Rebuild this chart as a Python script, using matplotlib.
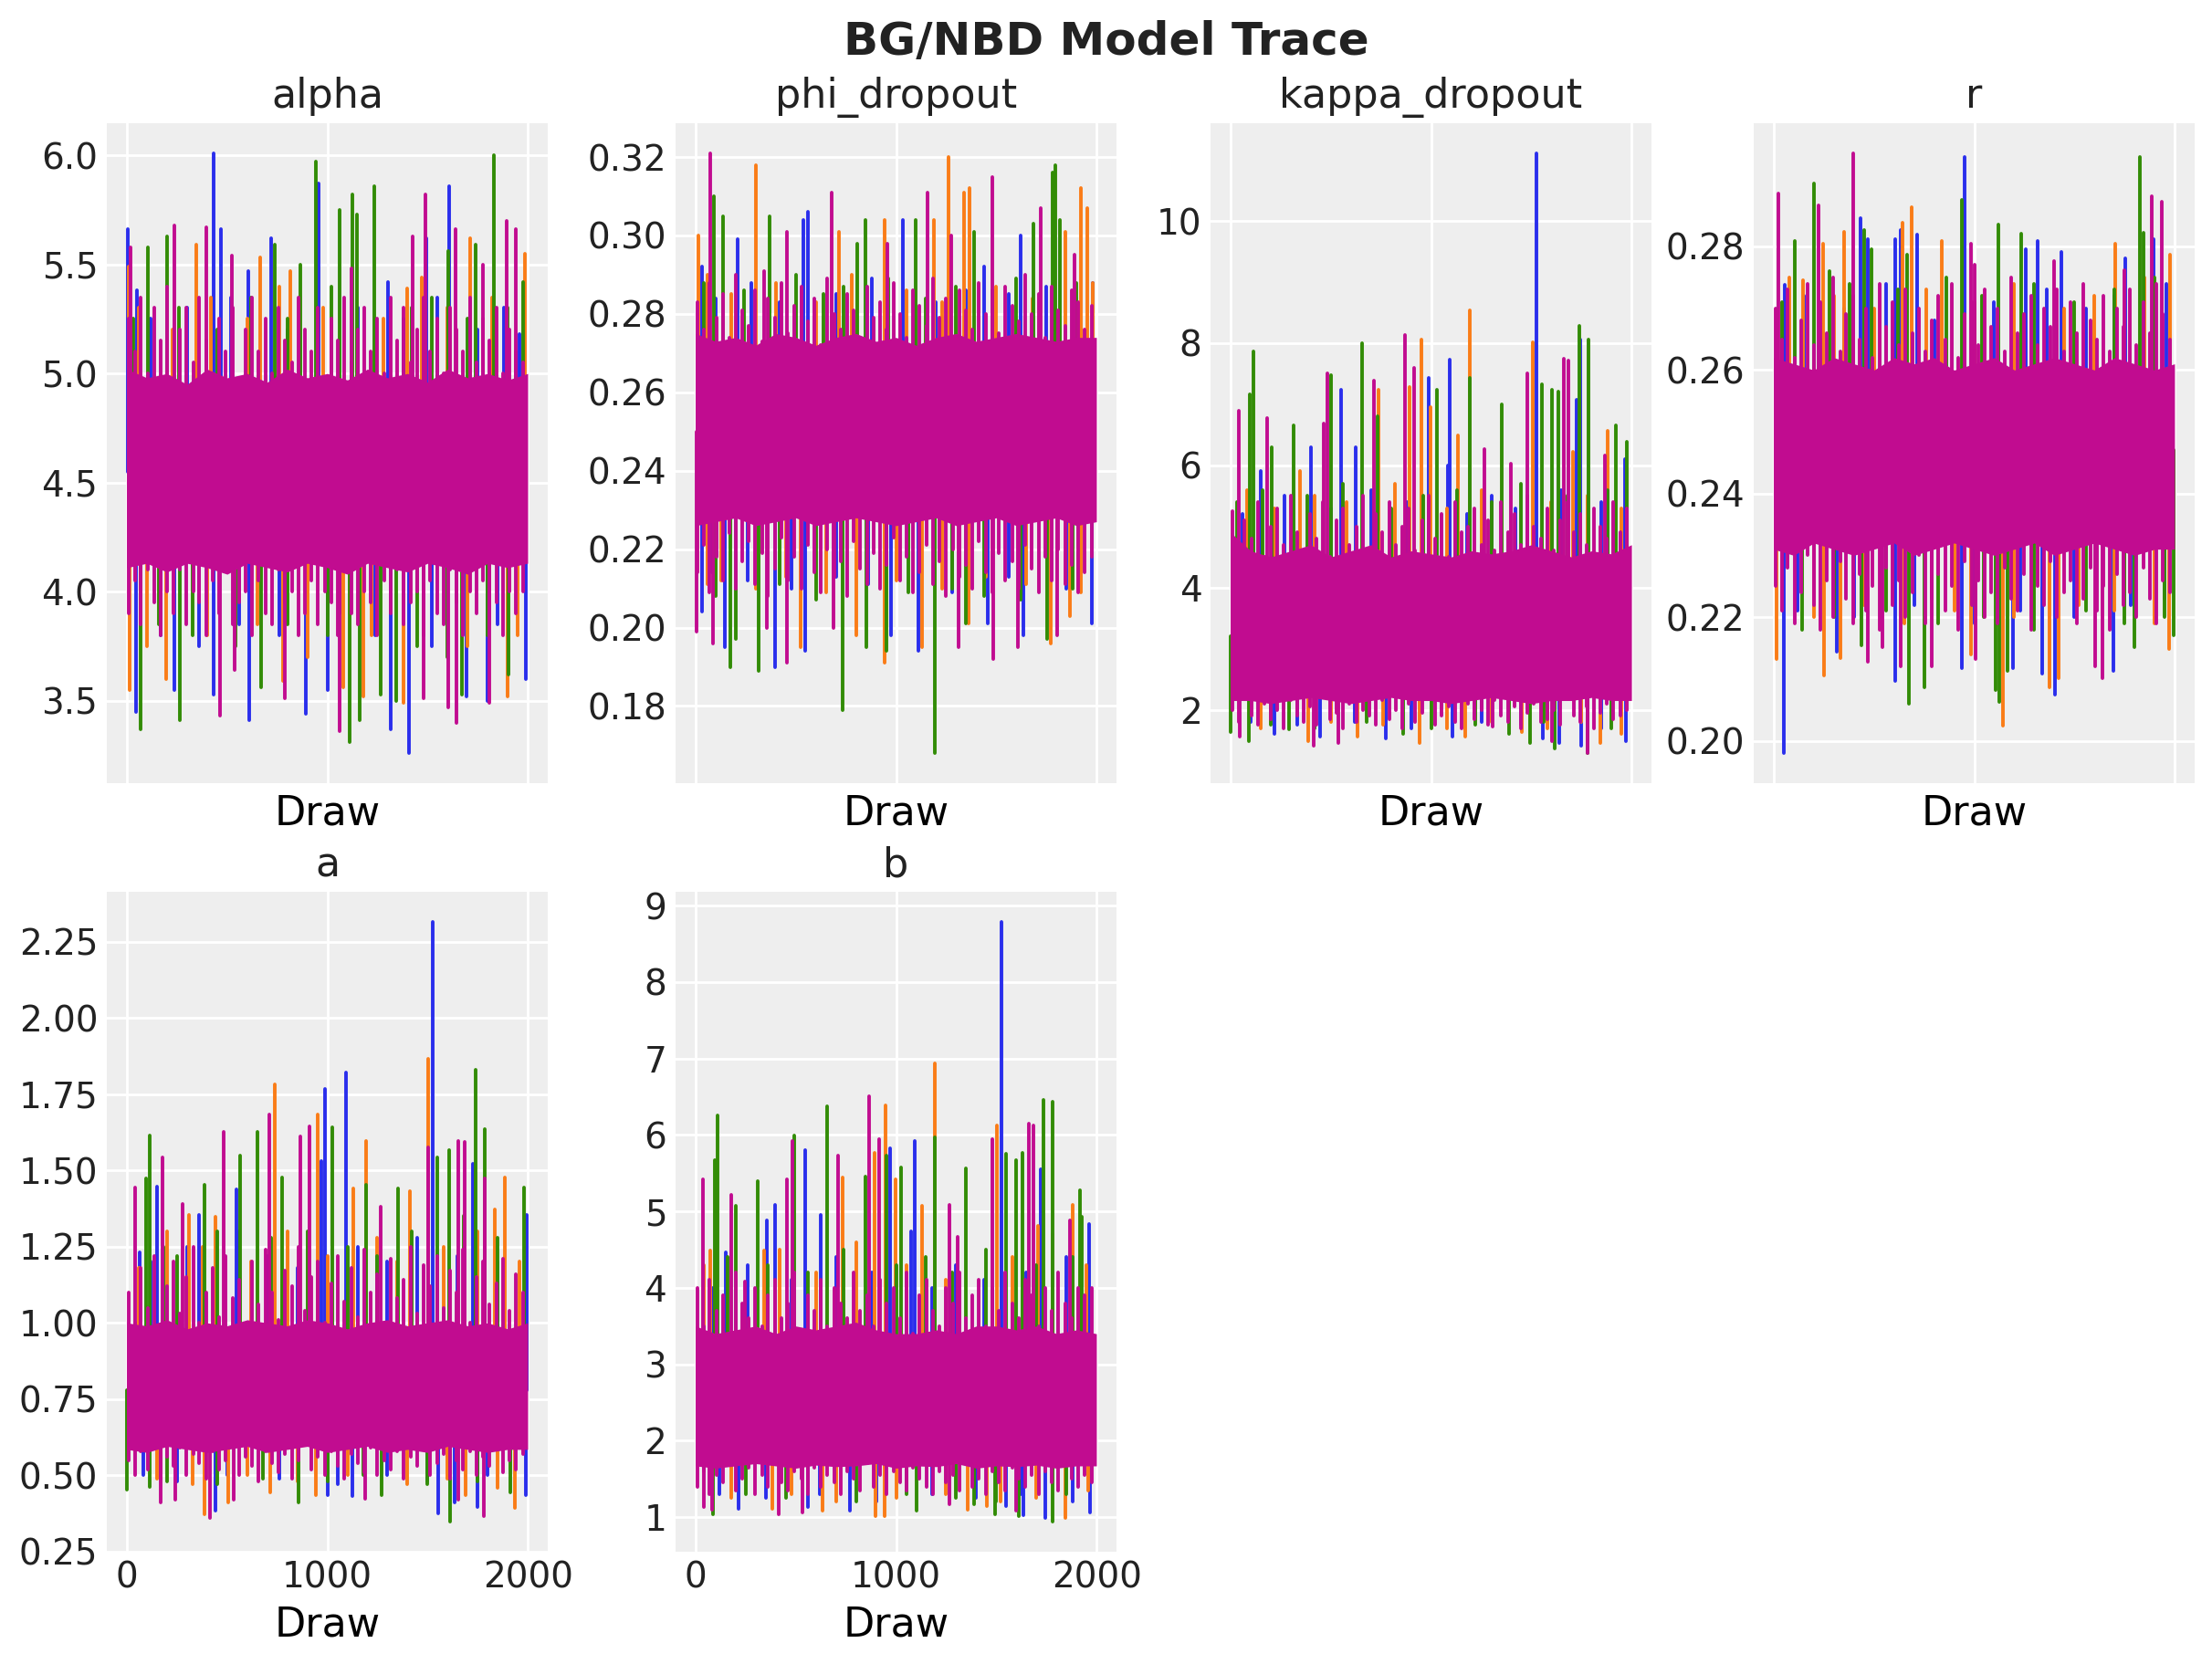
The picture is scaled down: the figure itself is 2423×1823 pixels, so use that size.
import matplotlib
matplotlib.use("Agg")
import matplotlib.pyplot as plt

# chain colours (arviz-darkgrid cycle)
chain_colors = ["#2a2eec", "#fa7c17", "#328c06", "#c10c90"]
param_names = ["alpha", "phi_dropout", "kappa_dropout", "r", "a", "b"]

# draw positions of the dense core band (solid magenta region)
band_draws = [0, 100, 200, 300, 400, 500, 600, 700, 800, 900, 1000,
              1100, 1200, 1300, 1400, 1500, 1600, 1700, 1800, 1900, 1999]

# draw positions of the ragged magenta swings around the core
teeth_draws = [8, 41, 70, 103, 135, 168, 199, 232, 266, 298, 331, 362, 396, 430, 461,
               494, 527, 560, 593, 626, 658, 691, 724, 757, 790, 822, 856, 889, 921, 954,
               987, 1020, 1053, 1086, 1118, 1151, 1184, 1217, 1250, 1283, 1316, 1349, 1382,
               1414, 1447, 1480, 1513, 1546, 1579, 1612, 1645, 1678, 1711, 1744, 1777, 1810,
               1843, 1876, 1909, 1942, 1975]

# ---- alpha ----
alpha_band_hi = [5.02, 4.98, 5.0, 4.95, 5.02, 4.98, 5.0, 4.96, 5.02, 4.98, 5.0,
                 4.97, 5.02, 4.98, 5.0, 4.96, 5.02, 4.98, 5.0, 4.97, 5.0]
alpha_band_lo = [4.11, 4.13, 4.09, 4.13, 4.11, 4.08, 4.13, 4.11, 4.09, 4.13, 4.11,
                 4.08, 4.13, 4.11, 4.09, 4.13, 4.11, 4.08, 4.13, 4.11, 4.13]
alpha_teeth_hi = [5.25, 5.1, 5.35, 5.0, 5.3, 5.15, 5.4, 4.95, 5.2, 5.3, 5.05, 5.35, 5.15, 5.0, 5.25,
                  5.1, 5.3, 4.95, 5.2, 5.35, 5.1, 5.25, 5.0, 5.3, 5.15, 5.05, 5.35, 5.2, 5.1, 5.3,
                  4.95, 5.25, 5.15, 5.35, 5.05, 5.2, 5.3, 5.1, 5.25, 5.0, 5.35, 5.15, 5.3, 5.05, 5.2,
                  5.35, 5.1, 5.25, 5.0, 5.3, 5.2, 5.1, 5.35, 5.05, 5.25, 5.15, 5.3, 5.0, 5.2, 5.1, 5.05]
alpha_teeth_lo = [3.9, 4.05, 3.85, 4.1, 3.95, 3.8, 4.0, 3.9, 4.1, 3.85, 4.0, 3.95, 3.8, 4.05, 3.9,
                  4.1, 3.85, 3.95, 4.0, 3.8, 4.05, 3.9, 3.85, 4.1, 3.95, 4.0, 3.8, 3.9, 4.05, 3.85,
                  4.0, 3.95, 3.8, 4.1, 3.9, 3.85, 4.0, 3.95, 3.8, 4.05, 3.9, 4.1, 3.85, 3.95, 4.0,
                  3.8, 4.05, 3.9, 3.85, 4.1, 3.95, 3.8, 4.0, 3.9, 4.05, 3.85, 3.95, 3.8, 4.0, 3.9, 4.0]
alpha_mid = 4.55
alpha_draws = [
    [4, 52, 434, 470, 606, 718, 956, 1301, 1495, 1609, 1957,
     47, 237, 432, 608, 891, 1001, 1316, 1405, 1696, 1799, 1989,
     120, 300, 520, 800, 1150, 1380, 1550, 1750, 1880, 170, 360, 560, 760, 1060, 1240, 1520, 1850],
    [9, 345, 665, 813, 1398, 1469, 1711, 1985,
     14, 194, 777, 1081, 1180, 1379, 1901,
     60, 230, 420, 600, 760, 980, 1280, 1600, 1820, 100, 400, 650, 900, 1220, 1480, 1700, 1950],
    [104, 199, 736, 867, 943, 1059, 1124, 1146, 1236, 1603, 1739, 1830, 1976,
     67, 263, 671, 1111, 1163, 1268, 1342, 1670, 1905,
     30, 260, 450, 620, 800, 1020, 1420, 1520, 1700, 1900, 160, 330, 540, 800, 1000, 1450, 1600, 1800],
    [19, 239, 395, 526, 1118, 1426, 1487, 1640, 1776, 1896, 1939,
     466, 537, 787, 1059, 1482, 1603, 1645, 1808],
]
alpha_vals = [
    [5.66, 5.38, 6.01, 5.66, 5.47, 5.62, 5.87, 5.42, 5.62, 5.86, 5.18,
     3.45, 3.55, 3.53, 3.41, 3.44, 3.55, 3.37, 3.26, 3.52, 3.50, 3.60,
     5.25, 5.3, 5.35, 5.2, 5.3, 5.25, 5.35, 5.2, 5.3, 3.8, 3.75, 3.85, 3.8, 3.9, 3.8, 3.75, 3.85],
    [5.49, 5.59, 5.53, 5.47, 5.39, 5.44, 5.62, 5.55,
     3.55, 3.60, 3.59, 3.56, 3.52, 3.49, 3.52,
     5.3, 5.2, 5.35, 5.25, 5.4, 5.3, 5.25, 5.3, 5.35, 3.75, 3.8, 3.85, 3.7, 3.8, 3.85, 3.75, 3.8],
    [5.58, 5.63, 5.59, 5.50, 5.97, 5.75, 5.82, 5.73, 5.86, 5.56, 5.59, 6.00, 5.42,
     3.37, 3.41, 3.56, 3.31, 3.41, 3.53, 3.50, 3.53, 3.62,
     5.25, 5.3, 5.2, 5.35, 5.25, 5.4, 5.3, 5.35, 5.25, 5.3, 3.85, 3.8, 3.75, 3.85, 3.8, 3.75, 3.7, 3.8],
    [5.58, 5.68, 5.67, 5.54, 5.48, 5.63, 5.82, 5.66, 5.50, 5.70, 5.66,
     3.43, 3.64, 3.51, 3.36, 3.51, 3.47, 3.40, 3.49],
]

# ---- phi_dropout ----
phi_band_hi = [0.275, 0.273, 0.274, 0.272, 0.275, 0.274, 0.272, 0.274, 0.275, 0.273, 0.274,
               0.272, 0.274, 0.275, 0.273, 0.274, 0.275, 0.274, 0.273, 0.274, 0.274]
phi_band_lo = [0.226, 0.227, 0.228, 0.226, 0.227, 0.228, 0.226, 0.227, 0.228, 0.227, 0.226,
               0.227, 0.228, 0.226, 0.227, 0.228, 0.226, 0.227, 0.228, 0.226, 0.227]
phi_teeth_hi = [0.283, 0.276, 0.288, 0.279, 0.285, 0.274, 0.29, 0.281, 0.277, 0.286, 0.273, 0.284,
                0.279, 0.288, 0.275, 0.282, 0.287, 0.278, 0.284, 0.272, 0.289, 0.28, 0.276, 0.285,
                0.281, 0.274, 0.287, 0.279, 0.283, 0.276, 0.288, 0.28, 0.274, 0.286, 0.282, 0.277,
                0.289, 0.279, 0.284, 0.273, 0.286, 0.281, 0.276, 0.288, 0.28, 0.284, 0.275, 0.287,
                0.282, 0.278, 0.29, 0.28, 0.285, 0.274, 0.287, 0.281, 0.277, 0.286, 0.283, 0.276, 0.282]
phi_teeth_lo = [0.214, 0.221, 0.209, 0.218, 0.212, 0.224, 0.21, 0.217, 0.222, 0.211, 0.219, 0.208,
                0.215, 0.223, 0.212, 0.218, 0.21, 0.221, 0.214, 0.209, 0.22, 0.213, 0.217, 0.208,
                0.222, 0.215, 0.211, 0.219, 0.21, 0.216, 0.223, 0.212, 0.218, 0.209, 0.214, 0.221,
                0.211, 0.217, 0.208, 0.22, 0.213, 0.216, 0.21, 0.222, 0.214, 0.209, 0.219, 0.212,
                0.217, 0.21, 0.221, 0.215, 0.209, 0.218, 0.212, 0.22, 0.211, 0.216, 0.209, 0.214, 0.218]
phi_mid = 0.25
phi_draws = [
    [33, 211, 537, 560, 1034, 1440, 1623, 1979,
     31, 145, 398, 548, 976, 1111, 1458, 1635, 1975,
     100, 280, 420, 700, 880, 1200, 1350, 1560, 1750, 1900, 80, 260, 480, 700, 860, 1280, 1560, 1850],
    [13, 302, 717, 943, 1189, 1261, 1337, 1366, 1845, 1924, 1952,
     60, 524, 800, 941, 1129, 1362, 1771, 1868,
     60, 180, 400, 600, 780, 1050, 1230, 1500, 1680, 1980, 130, 300, 450, 650, 1000, 1230, 1450, 1650, 1920],
    [90, 137, 367, 804, 849, 1099, 1388, 1686, 1780, 1793, 1816,
     172, 199, 313, 732, 852, 954, 1193, 1346, 1753,
     40, 240, 500, 640, 740, 960, 1150, 1300, 1480, 1600, 1900, 100, 420, 600, 1060, 1280, 1440, 1620, 1880],
    [72, 340, 455, 681, 958, 1156, 1274, 1478, 1720, 1890,
     4, 87, 354, 457, 688, 1312, 1485, 1608, 1802],
]
phi_vals = [
    [0.292, 0.299, 0.304, 0.306, 0.304, 0.292, 0.300, 0.288,
     0.204, 0.195, 0.190, 0.194, 0.198, 0.194, 0.201, 0.198, 0.201,
     0.284, 0.288, 0.283, 0.285, 0.289, 0.283, 0.286, 0.285, 0.287, 0.284,
     0.214, 0.212, 0.21, 0.213, 0.211, 0.209, 0.213, 0.21],
    [0.300, 0.318, 0.301, 0.304, 0.304, 0.320, 0.311, 0.312, 0.301, 0.312, 0.307,
     0.211, 0.195, 0.198, 0.191, 0.195, 0.201, 0.196, 0.203,
     0.29, 0.285, 0.288, 0.283, 0.29, 0.286, 0.283, 0.287, 0.284, 0.288,
     0.212, 0.21, 0.213, 0.209, 0.212, 0.21, 0.213, 0.211, 0.209],
    [0.310, 0.305, 0.305, 0.298, 0.304, 0.304, 0.301, 0.303, 0.316, 0.318, 0.304,
     0.190, 0.197, 0.189, 0.179, 0.195, 0.194, 0.168, 0.201, 0.197,
     0.288, 0.286, 0.29, 0.285, 0.287, 0.289, 0.284, 0.287, 0.286, 0.289, 0.288,
     0.208, 0.211, 0.207, 0.209, 0.21, 0.208, 0.207, 0.21],
    [0.321, 0.291, 0.301, 0.311, 0.298, 0.311, 0.300, 0.315, 0.307, 0.295,
     0.199, 0.196, 0.200, 0.191, 0.200, 0.195, 0.192, 0.195, 0.198],
]

# ---- kappa_dropout ----
kappa_band_hi = [4.9, 4.6, 4.5, 4.6, 4.7, 4.5, 4.6, 4.7, 4.5, 4.6, 4.55,
                 4.5, 4.6, 4.55, 4.6, 4.7, 4.6, 4.5, 4.6, 4.55, 4.7]
kappa_band_lo = [2.15, 2.15, 2.1, 2.15, 2.2, 2.15, 2.1, 2.15, 2.2, 2.15, 2.15,
                 2.1, 2.15, 2.2, 2.15, 2.1, 2.15, 2.15, 2.2, 2.15, 2.15]
kappa_teeth_hi = [5.25, 4.6, 5.1, 4.8, 5.4, 4.5, 5.0, 5.3, 4.7, 5.5, 4.9, 4.6, 5.2, 4.8, 5.4,
                  4.5, 5.1, 5.3, 4.7, 5.0, 5.5, 4.6, 5.2, 4.9, 5.4, 4.7, 5.0, 5.3, 4.6, 5.1,
                  5.5, 4.8, 5.2, 4.5, 5.4, 4.9, 5.0, 5.3, 4.7, 5.1, 4.6, 5.4, 4.9, 5.2, 4.7,
                  5.5, 5.0, 4.8, 5.3, 4.6, 5.1, 5.4, 4.9, 5.2, 4.7, 5.3, 5.0, 4.8, 5.4, 4.9, 5.3]
kappa_teeth_lo = [2.0, 1.8, 2.2, 1.9, 1.75, 2.1, 1.85, 2.0, 1.7, 2.15, 1.9, 1.8, 2.05, 1.75, 2.2,
                  1.85, 1.95, 1.7, 2.1, 1.8, 2.0, 1.9, 1.75, 2.15, 1.85, 2.0, 1.7, 2.1, 1.8, 1.95,
                  2.2, 1.75, 1.9, 2.05, 1.8, 1.7, 2.1, 1.85, 2.0, 1.75, 2.15, 1.9, 1.8, 2.05, 1.7,
                  1.95, 2.1, 1.8, 1.85, 2.0, 1.75, 2.2, 1.9, 1.8, 2.05, 1.7, 1.95, 2.1, 1.85, 1.9, 2.0]
kappa_mid = 3.2
kappa_draws = [
    [1527, 1094, 990, 552, 400, 623, 1746, 1724, 150, 1966, 1083,
     218, 448, 772, 1105, 1556, 1750, 1970, 1640,
     60, 270, 500, 700, 880, 1180, 1300, 1420, 1650, 1850, 100, 330, 620, 900, 1250, 1450, 1850],
    [1194, 953, 1507, 738, 894, 998, 1133, 1882, 1708, 348,
     387, 632, 944, 1843, 1451, 1949, 1172,
     80, 220, 420, 580, 820, 1080, 1250, 1600, 1780, 1950, 150, 500, 760, 1080, 1300, 1580, 1750],
    [113, 96, 657, 1740, 1784, 1194, 1552, 1603, 1633, 1350, 500, 1027, 204, 314, 733, 1920, 1978,
     2, 90, 291, 860, 1495, 1615, 1780, 1387,
     30, 160, 380, 560, 800, 960, 1130, 1300, 1450, 1680, 1880, 200, 420, 680, 1000, 1220, 1560, 1900],
    [42, 181, 481, 870, 915, 713, 1481, 1662, 1684, 1267, 1397, 1868, 463,
     44, 414, 535, 1603, 1780, 1306],
]
kappa_vals = [
    [11.11, 7.73, 7.43, 7.24, 6.30, 6.30, 8.06, 7.08, 5.91, 6.10, 5.99,
     1.60, 1.56, 1.53, 1.56, 1.53, 1.41, 1.49, 1.45,
     5.2, 5.5, 5.3, 5.6, 5.4, 5.2, 5.5, 5.3, 5.6, 5.4, 1.8, 1.75, 1.8, 1.7, 1.8, 1.75, 1.7],
    [8.53, 8.06, 8.02, 7.24, 7.28, 6.96, 6.49, 6.57, 6.22, 5.91,
     1.49, 1.56, 1.45, 1.45, 1.64, 1.60, 1.56,
     5.6, 5.3, 5.5, 5.4, 5.7, 5.3, 5.6, 5.4, 5.5, 5.3, 1.7, 1.8, 1.75, 1.7, 1.8, 1.7, 1.8],
    [7.86, 7.16, 8.00, 8.29, 8.06, 7.43, 7.32, 7.24, 7.20, 7.00, 7.47, 7.24, 6.30, 6.65, 6.81, 6.65, 6.38,
     1.64, 1.49, 1.68, 1.60, 1.45, 1.37, 1.29, 1.60,
     5.4, 5.6, 5.5, 5.7, 5.3, 5.5, 5.6, 5.4, 5.7, 5.5, 5.6, 1.75, 1.7, 1.8, 1.7, 1.75, 1.8, 1.7],
    [6.89, 6.77, 7.51, 8.14, 7.59, 7.39, 7.51, 7.75, 7.71, 6.26, 6.02, 6.16, 6.69,
     1.56, 1.41, 1.45, 1.49, 1.29, 1.72],
]

# ---- r ----
r_band_hi = [0.262, 0.261, 0.26, 0.262, 0.261, 0.26, 0.262, 0.261, 0.262, 0.26, 0.261,
             0.262, 0.26, 0.261, 0.262, 0.261, 0.26, 0.262, 0.261, 0.26, 0.261]
r_band_lo = [0.231, 0.23, 0.232, 0.231, 0.23, 0.231, 0.232, 0.23, 0.231, 0.232, 0.231,
             0.23, 0.231, 0.232, 0.23, 0.231, 0.232, 0.231, 0.23, 0.231, 0.231]
r_teeth_hi = [0.27, 0.265, 0.273, 0.262, 0.268, 0.274, 0.264, 0.271, 0.266, 0.275, 0.263, 0.269,
              0.272, 0.265, 0.27, 0.262, 0.274, 0.267, 0.271, 0.264, 0.273, 0.266, 0.27, 0.263,
              0.268, 0.272, 0.265, 0.274, 0.262, 0.269, 0.271, 0.264, 0.273, 0.267, 0.27, 0.263,
              0.275, 0.266, 0.269, 0.272, 0.264, 0.27, 0.267, 0.273, 0.263, 0.271, 0.266, 0.274,
              0.268, 0.265, 0.272, 0.263, 0.27, 0.267, 0.273, 0.264, 0.271, 0.266, 0.274, 0.269, 0.265]
r_teeth_lo = [0.225, 0.221, 0.228, 0.219, 0.224, 0.23, 0.222, 0.218, 0.226, 0.22, 0.229, 0.223,
              0.219, 0.227, 0.221, 0.225, 0.218, 0.228, 0.222, 0.226, 0.22, 0.224, 0.23, 0.219,
              0.223, 0.227, 0.221, 0.225, 0.218, 0.229, 0.222, 0.226, 0.22, 0.224, 0.219, 0.228,
              0.223, 0.221, 0.227, 0.218, 0.225, 0.222, 0.229, 0.22, 0.224, 0.226, 0.219, 0.223,
              0.228, 0.221, 0.225, 0.218, 0.227, 0.222, 0.224, 0.22, 0.228, 0.223, 0.219, 0.226, 0.224]
r_mid = 0.247
r_draws = [
    [954, 434, 471, 607, 632, 714, 1318, 1258, 1755, 1895, 54, 1437,
     51, 606, 938, 1404, 1341, 1694, 1195, 313,
     150, 350, 560, 800, 1100, 1360, 1560, 1700, 1960, 120, 400, 700, 1000, 1230, 1500, 1780, 1950],
    [688, 644, 352, 245, 837, 1705, 1976, 145,
     12, 252, 331, 1145, 1374, 1421, 1974, 982,
     80, 300, 500, 760, 1000, 1200, 1450, 1600, 1850, 200, 450, 650, 900, 1200, 1520, 1700, 1900],
    [200, 107, 1825, 1846, 940, 1122, 1236, 451, 488, 665,
     675, 754, 1124, 1108, 438, 1799, 1997, 1167,
     40, 280, 380, 620, 860, 1040, 1300, 1500, 1700, 1900, 140, 300, 560, 820, 1050, 1300, 1560, 1750, 1950],
    [23, 397, 222, 984, 1887, 1937, 1748, 1397, 1001,
     471, 634, 786, 1008, 1638, 1603, 541],
]
r_vals = [
    [0.2945, 0.2846, 0.2812, 0.2812, 0.2827, 0.2819, 0.2809, 0.2796, 0.2781, 0.2812, 0.2738, 0.2791,
     0.198, 0.2097, 0.2117, 0.2074, 0.2109, 0.2113, 0.2117, 0.2144,
     0.272, 0.27, 0.274, 0.268, 0.271, 0.273, 0.27, 0.272, 0.274,
     0.221, 0.22, 0.222, 0.219, 0.221, 0.22, 0.222, 0.223],
    [0.2863, 0.2839, 0.2823, 0.2804, 0.2809, 0.2804, 0.2786, 0.2746,
     0.2132, 0.2105, 0.2134, 0.2024, 0.2086, 0.2101, 0.2148, 0.2140,
     0.275, 0.272, 0.27, 0.273, 0.271, 0.274, 0.27, 0.272, 0.275,
     0.22, 0.222, 0.219, 0.221, 0.22, 0.222, 0.221, 0.219],
    [0.2902, 0.2809, 0.2945, 0.2822, 0.2875, 0.2836, 0.2821, 0.2827, 0.2796, 0.2786,
     0.2060, 0.2086, 0.2063, 0.2082, 0.2155, 0.2151, 0.2171, 0.2113,
     0.271, 0.276, 0.274, 0.273, 0.275, 0.272, 0.274, 0.271, 0.273, 0.275,
     0.218, 0.22, 0.221, 0.219, 0.22, 0.218, 0.221, 0.219, 0.22],
    [0.2886, 0.2951, 0.2866, 0.2804, 0.2881, 0.2873, 0.2761, 0.2777, 0.2771,
     0.2128, 0.2120, 0.2120, 0.2132, 0.2101, 0.2120, 0.2151],
]

# ---- a ----
a_band_hi = [1.0, 0.99, 1.01, 0.98, 1.0, 0.99, 1.01, 1.0, 0.99, 1.01, 1.0,
             0.98, 1.0, 1.01, 0.99, 1.0, 1.01, 0.99, 1.0, 0.98, 1.0]
a_band_lo = [0.585, 0.575, 0.595, 0.585, 0.575, 0.585, 0.595, 0.575, 0.585, 0.595, 0.575,
             0.585, 0.595, 0.575, 0.585, 0.575, 0.595, 0.585, 0.575, 0.585, 0.585]
a_teeth_hi = [1.1, 1.0, 1.18, 1.05, 1.22, 0.98, 1.12, 1.2, 1.03, 1.15, 1.25, 1.0, 1.1, 1.18, 1.02,
              1.22, 1.08, 1.14, 0.99, 1.2, 1.06, 1.24, 1.1, 1.01, 1.17, 1.12, 1.25, 1.04, 1.15, 1.2,
              1.0, 1.13, 1.22, 1.07, 1.18, 1.02, 1.24, 1.1, 1.16, 1.0, 1.21, 1.08, 1.14, 1.25, 1.03,
              1.19, 1.12, 1.22, 1.05, 1.17, 1.1, 1.24, 1.0, 1.15, 1.2, 1.06, 1.13, 1.21, 1.04, 1.16, 1.1]
a_teeth_lo = [0.55, 0.5, 0.58, 0.52, 0.6, 0.49, 0.56, 0.53, 0.59, 0.5, 0.57, 0.54, 0.49, 0.58, 0.52,
              0.55, 0.6, 0.5, 0.56, 0.53, 0.48, 0.58, 0.54, 0.51, 0.57, 0.49, 0.55, 0.6, 0.52, 0.56,
              0.5, 0.58, 0.53, 0.49, 0.57, 0.54, 0.51, 0.59, 0.5, 0.55, 0.52, 0.58, 0.49, 0.56, 0.53,
              0.6, 0.5, 0.54, 0.57, 0.49, 0.55, 0.52, 0.58, 0.5, 0.56, 0.53, 0.59, 0.51, 0.55, 0.52, 0.57]
a_mid = 0.78
a_draws = [
    [1525, 1094, 988, 149, 546, 1724, 1994, 65, 358, 969,
     442, 1553, 1747, 1990, 1003, 1124, 1637,
     120, 300, 560, 700, 850, 1150, 1300, 1450, 1650, 1850, 80, 250, 500, 760, 1050, 1300, 1500, 1800],
    [1504, 736, 951, 1193, 1883, 1413, 1131, 1834, 311, 442,
     386, 507, 714, 941, 1937, 1691,
     60, 200, 380, 620, 800, 1000, 1250, 1350, 1580, 1750, 1960, 150, 330, 600, 850, 1100, 1400, 1600, 1850],
    [112, 97, 386, 563, 652, 774, 1025, 1739, 1784, 1351, 1191, 1609, 1549, 1983,
     0, 857, 1614, 1271, 115, 1911,
     180, 250, 450, 720, 900, 1100, 1250, 1420, 1680, 1850, 200, 450, 680, 1000, 1180, 1500, 1750],
    [39, 179, 481, 712, 867, 913, 1501, 1653, 1683, 1786, 1267, 276,
     168, 240, 414, 533, 1780, 1187, 1655],
]
a_vals = [
    [2.315, 1.821, 1.768, 1.447, 1.437, 1.521, 1.354, 1.230, 1.354, 1.530,
     0.383, 0.375, 0.396, 0.436, 0.436, 0.433, 0.410,
     1.2, 1.25, 1.3, 1.22, 1.18, 1.25, 1.2, 1.28, 1.22, 1.2, 0.5, 0.48, 0.5, 0.49, 0.47, 0.5, 0.48, 0.5],
    [1.865, 1.782, 1.684, 1.595, 1.477, 1.433, 1.442, 1.371, 1.354, 1.348,
     0.371, 0.410, 0.445, 0.436, 0.392, 0.436,
     1.18, 1.3, 1.25, 1.2, 1.3, 1.22, 1.28, 1.2, 1.25, 1.3, 1.2,
     0.49, 0.47, 0.5, 0.48, 0.5, 0.47, 0.49, 0.46],
    [1.613, 1.472, 1.454, 1.548, 1.627, 1.477, 1.641, 1.830, 1.636, 1.442, 1.454, 1.565, 1.542, 1.445,
     0.454, 0.410, 0.348, 0.436, 0.463, 0.445,
     1.25, 1.22, 1.3, 1.28, 1.3, 1.25, 1.22, 1.3, 1.35, 1.28, 0.48, 0.47, 0.49, 0.48, 0.5, 0.47, 0.48],
    [1.445, 1.542, 1.627, 1.684, 1.610, 1.645, 1.574, 1.597, 1.592, 1.472, 1.380, 1.389,
     0.410, 0.419, 0.361, 0.419, 0.366, 0.424, 0.419],
]

# ---- b ----
b_band_hi = [3.5, 3.4, 3.45, 3.5, 3.4, 3.5, 3.45, 3.5, 3.55, 3.45, 3.4,
             3.4, 3.45, 3.4, 3.5, 3.5, 3.45, 3.5, 3.4, 3.45, 3.4]
b_band_lo = [1.67, 1.64, 1.67, 1.7, 1.67, 1.64, 1.68, 1.66, 1.67, 1.7, 1.64,
             1.67, 1.66, 1.7, 1.64, 1.67, 1.66, 1.68, 1.64, 1.67, 1.67]
b_teeth_hi = [4.0, 3.5, 4.1, 3.7, 3.9, 3.4, 4.2, 3.8, 3.6, 4.0, 3.5, 3.9, 4.1, 3.6, 3.8,
              4.2, 3.4, 3.9, 3.7, 4.1, 3.5, 4.0, 3.8, 3.6, 4.2, 3.7, 3.9, 3.5, 4.1, 3.8,
              4.0, 3.6, 4.2, 3.4, 3.9, 4.1, 3.7, 3.5, 4.0, 3.8, 4.2, 3.6, 3.9, 4.1, 3.5,
              4.0, 3.7, 4.2, 3.8, 3.6, 4.1, 3.9, 3.5, 4.0, 3.7, 4.2, 3.8, 3.6, 4.0, 3.9, 4.0]
b_teeth_lo = [1.4, 1.6, 1.3, 1.55, 1.45, 1.7, 1.35, 1.5, 1.65, 1.3, 1.55, 1.4, 1.7, 1.45, 1.35,
              1.6, 1.5, 1.3, 1.65, 1.4, 1.55, 1.45, 1.3, 1.6, 1.5, 1.35, 1.7, 1.4, 1.55, 1.3,
              1.6, 1.45, 1.35, 1.65, 1.5, 1.4, 1.3, 1.6, 1.45, 1.55, 1.35, 1.7, 1.4, 1.5, 1.3,
              1.6, 1.45, 1.35, 1.65, 1.5, 1.4, 1.55, 1.3, 1.6, 1.45, 1.35, 1.7, 1.5, 1.4, 1.55, 1.45]
b_mid = 2.4
b_draws = [
    [1525, 1093, 548, 972, 398, 356, 622, 1961, 1720, 150, 1075,
     215, 560, 772, 1744, 1635, 1966, 1550,
     80, 260, 480, 700, 880, 1180, 1300, 1440, 1650, 1850, 120, 350, 620, 900, 1180, 1400, 1620, 1880],
    [1193, 949, 1503, 894, 735, 996, 1131, 1879, 1708, 72, 343,
     385, 632, 897, 943, 1843, 1359, 1455,
     40, 200, 420, 600, 800, 1050, 1250, 1580, 1780, 1950, 180, 480, 700, 1000, 1250, 1520, 1700, 1960],
    [110, 94, 493, 654, 954, 1193, 1737, 1782, 1348, 1549, 1597, 1630, 311, 202, 847, 1025, 1917, 1928,
     87, 1494, 1614, 1780, 1104, 1391,
     160, 360, 560, 740, 1000, 1150, 1280, 1450, 1700, 1880, 250, 450, 800, 1050, 1300, 1500, 1850],
    [38, 179, 481, 455, 710, 867, 914, 1661, 1684, 1482, 1267, 1305, 1868, 244,
     40, 80, 414, 533, 1597, 1265],
]
b_vals = [
    [8.79, 5.92, 5.80, 5.82, 5.09, 4.88, 4.95, 4.83, 5.55, 4.46, 4.74,
     1.11, 1.13, 1.08, 0.99, 1.03, 1.06, 1.15,
     4.0, 4.3, 4.1, 4.4, 4.2, 4.0, 4.3, 4.1, 4.2, 4.4, 1.3, 1.25, 1.3, 1.2, 1.3, 1.25, 1.3, 1.2],
    [6.94, 6.39, 6.13, 5.77, 5.44, 5.42, 5.07, 5.09, 4.81, 4.49, 4.49,
     1.11, 1.08, 1.01, 1.01, 0.99, 1.10, 1.15,
     4.3, 4.0, 4.5, 4.2, 4.6, 4.3, 4.1, 4.4, 4.7, 4.3, 1.25, 1.3, 1.2, 1.25, 1.3, 1.2, 1.25, 1.35],
    [6.25, 5.67, 5.99, 6.37, 5.73, 5.97, 6.46, 6.44, 5.56, 5.76, 5.67, 5.77, 5.39, 5.07, 5.46, 5.57, 5.28, 4.93,
     1.04, 1.04, 1.01, 0.94, 1.08, 1.17,
     4.4, 4.3, 4.2, 4.5, 4.3, 4.4, 4.2, 4.5, 4.3, 4.4, 1.3, 1.25, 1.2, 1.3, 1.25, 1.2, 1.3],
    [5.42, 5.22, 5.92, 5.42, 5.73, 6.51, 5.95, 6.15, 6.13, 5.94, 5.09, 4.67, 4.88, 4.08,
     1.13, 1.10, 1.04, 1.06, 1.08, 1.17],
]

mids = [alpha_mid, phi_mid, kappa_mid, r_mid, a_mid, b_mid]
bands_hi = [alpha_band_hi, phi_band_hi, kappa_band_hi, r_band_hi, a_band_hi, b_band_hi]
bands_lo = [alpha_band_lo, phi_band_lo, kappa_band_lo, r_band_lo, a_band_lo, b_band_lo]
teeth_hi = [alpha_teeth_hi, phi_teeth_hi, kappa_teeth_hi, r_teeth_hi, a_teeth_hi, b_teeth_hi]
teeth_lo = [alpha_teeth_lo, phi_teeth_lo, kappa_teeth_lo, r_teeth_lo, a_teeth_lo, b_teeth_lo]
all_draws = [alpha_draws, phi_draws, kappa_draws, r_draws, a_draws, b_draws]
all_vals = [alpha_vals, phi_vals, kappa_vals, r_vals, a_vals, b_vals]

# arviz-darkgrid look
plt.rcParams.update({
    "font.family": "DejaVu Sans",
    "axes.facecolor": "#eeeeee",
    "axes.edgecolor": "none",
    "axes.grid": True,
    "axes.axisbelow": True,
    "grid.color": "white",
    "grid.linewidth": 1.0,
    "axes.titlesize": 16,
    "axes.labelsize": 16,
    "xtick.labelsize": 14,
    "ytick.labelsize": 14,
    "xtick.major.size": 0,
    "ytick.major.size": 0,
    "text.color": "#222222",
    "xtick.color": "#222222",
    "ytick.color": "#222222",
})

fig = plt.figure(figsize=(12.115, 9.115), dpi=200)

col_left = [0.0483, 0.3054, 0.5473, 0.7928]
row_bottom = [0.5294, 0.0675]
panel_w, panel_h = 0.1993, 0.3966

axes = []
for i, name in enumerate(param_names):
    row, col = divmod(i, 4)
    rect = [col_left[col], row_bottom[row], panel_w, panel_h]
    ax = fig.add_axes(rect, sharex=axes[0] if axes else None)
    axes.append(ax)

    # chains 0-2 under the band, magenta chain on top
    for c in range(3):
        ax.vlines(all_draws[i][c], mids[i], all_vals[i][c], color=chain_colors[c],
                  linewidth=1.4, capstyle="round", zorder=2)
    ax.fill_between(band_draws, bands_lo[i], bands_hi[i],
                    color=chain_colors[3], linewidth=0, zorder=3)
    ax.vlines(teeth_draws, teeth_lo[i], teeth_hi[i], color=chain_colors[3],
              linewidth=1.4, capstyle="round", zorder=4)
    ax.vlines(all_draws[i][3], mids[i], all_vals[i][3], color=chain_colors[3],
              linewidth=1.4, capstyle="round", zorder=4)
    ax.set_title(name)
    ax.set_xlabel("Draw")
    ax.set_xticks([0, 1000, 2000])
    if row == 0:
        ax.tick_params(labelbottom=False)

fig.text(0.5, 1 - 60 / 1823, "BG/NBD Model Trace", ha="center", va="baseline",
         fontsize=18, fontweight="bold", color="#222222")
fig.savefig("out.png", dpi=200)
